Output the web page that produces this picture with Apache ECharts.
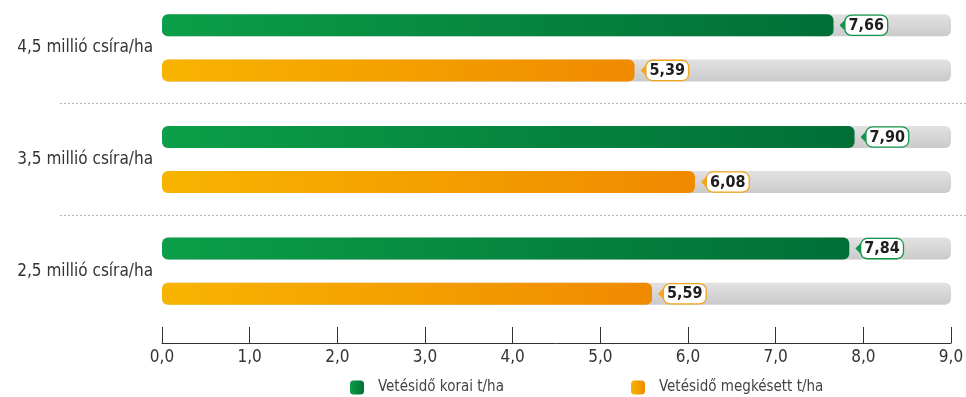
<!DOCTYPE html>
<html>
<head>
<meta charset="utf-8">
<script src="https://cdn.jsdelivr.net/npm/echarts@6/dist/echarts.min.js"></script>
<style>
  html, body { margin: 0; padding: 0; background: #fff; }
  #chart { width: 966px; height: 397px; }
</style>
</head>
<body>
<div id="chart"></div>
<script>
// Seeding density groups (top to bottom)
const categories = ['4,5 millió csíra/ha', '3,5 millió csíra/ha', '2,5 millió csíra/ha'];
// Yield, t/ha
const koraiValues = [7.66, 7.90, 7.84];
const megkesettValues = [5.39, 6.08, 5.59];
const seriesNames = ['Vetésidő korai t/ha', 'Vetésidő megkésett t/ha'];
// Axis range
const axisMin = 0, axisMax = 9, axisStep = 1;

const FONT = '"DejaVu Sans Condensed", "Liberation Sans Narrow", "Roboto", sans-serif';
const fmt = v => v.toFixed(2).replace('.', ',');

const greenGrad = new echarts.graphic.LinearGradient(0, 0, 1, 0, [
  { offset: 0, color: '#0c9e48' }, { offset: 1, color: '#006f36' }
]);
const orangeGrad = new echarts.graphic.LinearGradient(0, 0, 1, 0, [
  { offset: 0, color: '#f8b400' }, { offset: 1, color: '#f08a00' }
]);
const trackGrad = new echarts.graphic.LinearGradient(0, 0, 0, 1, [
  { offset: 0, color: '#e2e2e2' }, { offset: 1, color: '#cacaca' }
]);

// small left-pointing tag arrow in the given colour
function arrowImage(color) {
  const svg = '<svg xmlns="http://www.w3.org/2000/svg" width="6" height="12" viewBox="0 0 6 12">' +
    '<path d="M0 6 L6 0 L6 12 Z" fill="' + color + '"/></svg>';
  return 'data:image/svg+xml;charset=utf-8,' + encodeURIComponent(svg);
}

function valueLabel(edge) {
  return {
    show: true,
    position: 'right',
    distance: 6,
    formatter: p => '{t|}{v|' + fmt(p.value) + '}',
    rich: {
      t: { width: 6, height: 12, backgroundColor: { image: arrowImage(edge) } },
      v: {
        fontFamily: FONT, fontWeight: 'bold', fontSize: 16, color: '#1e1e1e',
        backgroundColor: '#fff', borderColor: edge, borderWidth: 1.3, borderRadius: 6,
        padding: [2, 3, 1, 3], lineHeight: 18
      }
    }
  };
}

function barSeries(name, values, fill, edge) {
  return {
    name: name,
    type: 'bar',
    data: values,
    barWidth: 22,
    barGap: '105%',
    showBackground: true,
    backgroundStyle: { color: trackGrad, borderRadius: 6 },
    itemStyle: { color: fill, borderRadius: 6 },
    label: valueLabel(edge),
    emphasis: { disabled: true }
  };
}

const legendBase = {
  top: 380, padding: 0, itemWidth: 14, itemHeight: 14,
  icon: 'roundRect', itemGap: 0,
  textStyle: { fontSize: 15, color: '#444', fontFamily: FONT, padding: [0, 0, 0, 9] }
};

const chart = echarts.init(document.getElementById('chart'), null, { renderer: 'canvas' });
chart.setOption({
  animation: false,
  textStyle: { fontFamily: FONT },
  grid: [
    { left: 162, right: 15, top: -8, height: 335, containLabel: false, outerBoundsMode: 'none' },
    // band for the dotted group separators
    { left: 60, right: 0, top: 103, height: 112, containLabel: false, outerBoundsMode: 'none' }
  ],
  xAxis: [
    {
      gridIndex: 0, type: 'value', min: axisMin, max: axisMax, interval: axisStep,
      offset: 16,
      axisLine: { show: true, lineStyle: { color: '#333', width: 1 } },
      axisTick: { show: true, inside: true, length: 16, lineStyle: { color: '#333', width: 1 } },
      axisLabel: {
        margin: 6, fontSize: 17, color: '#333', fontFamily: FONT,
        formatter: v => v.toFixed(1).replace('.', ',')
      },
      splitLine: { show: false }
    },
    { gridIndex: 1, type: 'value', show: false, min: 0, max: 1 }
  ],
  yAxis: [
    {
      gridIndex: 0, type: 'category', data: categories, inverse: true,
      axisLine: { show: false }, axisTick: { show: false },
      axisLabel: { margin: 9, fontSize: 17, color: '#333', fontFamily: FONT },
      splitLine: { show: false }
    },
    {
      gridIndex: 1, type: 'value', min: 0, max: 1, interval: 1,
      axisLine: { show: false }, axisTick: { show: false }, axisLabel: { show: false },
      splitLine: { show: true, lineStyle: { type: [2, 2], color: '#b5b5b5', width: 1 } }
    }
  ],
  legend: [
    Object.assign({}, legendBase, { data: [seriesNames[0]], left: 350 }),
    Object.assign({}, legendBase, { data: [seriesNames[1]], left: 631 })
  ],
  series: [
    barSeries(seriesNames[0], koraiValues, greenGrad, '#14964a'),
    barSeries(seriesNames[1], megkesettValues, orangeGrad, '#f4a51c')
  ]
});
</script>
</body>
</html>
